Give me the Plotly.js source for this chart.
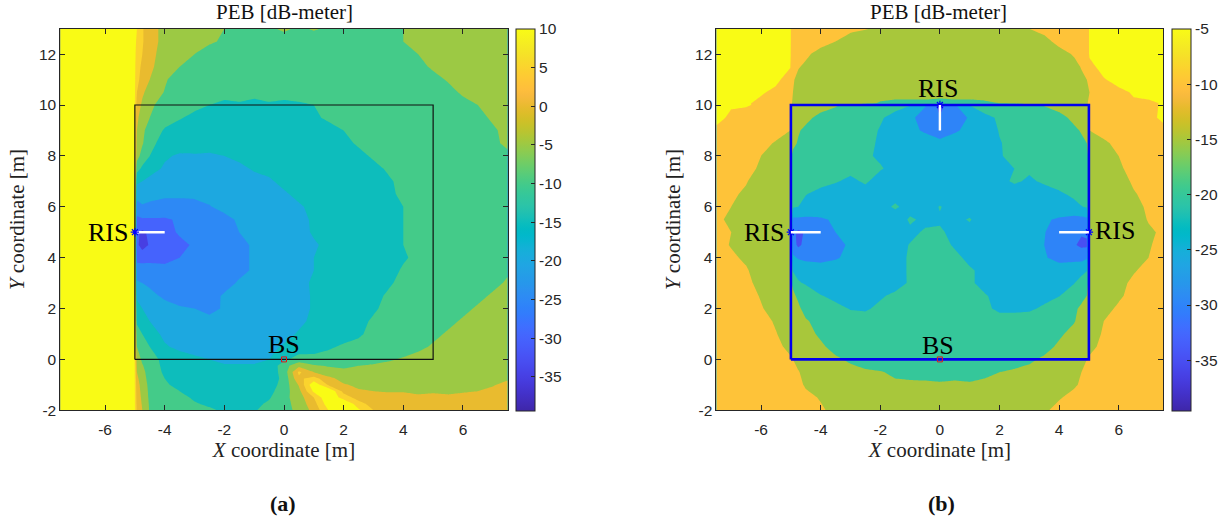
<!DOCTYPE html>
<html><head><meta charset="utf-8">
<script src="https://cdn.plot.ly/plotly-3.0.1.min.js"></script>
<style>html,body{margin:0;padding:0;background:#fff}#g{width:1225px;height:516px}</style>
</head><body><div id="g"></div>
<script>
const x_a=[-7.5,-5.02,-4.93,-4.75,-4.5,-4,-3.5,-3,-2.5,-2,-1.5,-1,-0.5,0,0.5,1,1.5,2,2.5,3,3.5,4,4.5,5,5.5,6,6.5,7,7.5];
const y_a=[-2,-1.75,-1.5,-1.25,-1,-0.75,-0.5,-0.25,0,0.5,1,1.5,2,2.5,3,3.5,4,4.5,5,5.5,6,6.5,7,7.5,8,8.5,9,9.5,10,10.5,11,11.5,12,12.5,13];
const peb_a=[
[12,12,4,0,-5.5,-7,-8,-9,-9.5,-10.5,-11,-10.5,-8,-7,-3.5,1.5,10.2,18,11,5,3,3,3,3,3,3,3,3,3],
[12,12,3.5,-0.5,-5.7,-7.5,-8.5,-9.7,-10.5,-11.2,-11.5,-11.2,-9.2,-6.8,-3,3,13,16,7,3,2,2,1.8,2,1.8,2,2.2,2.5,2.8],
[12,12,3,-1,-6,-8,-9,-10.5,-11.5,-12,-12,-12,-10.5,-6.5,-2.5,5,15,7.5,3,1.5,1,1,0.5,1,0.5,1,1.5,2,2.5],
[12,12,2.5,-1.5,-6.2,-8.7,-10,-11.2,-12.2,-12.5,-12.5,-12.5,-11.5,-7.3,-1.5,11,15,3.5,0.5,0,-0.2,-0.2,-0.5,-0.5,-0.5,-0.3,0,0.8,1.8],
[12,12,2,-2,-6.5,-9.5,-11,-12,-13,-13,-13,-13,-12.5,-8,0.5,14,4,0.5,-1,-2,-2,-1.5,-2,-2,-2,-1.5,-1.5,-0.3,1],
[12,12,1,-2.5,-7.2,-10,-11.5,-12.5,-13.5,-13.5,-13.5,-13.5,-12.7,-8.7,4,7,1.5,-2,-3,-3,-3,-3,-3,-3,-3,-3,-2.5,-1.8,-0.5],
[12,12,0,-3,-8,-10.5,-12,-13,-14,-14,-14,-14,-13,-8,6,0,-3.5,-4,-3.5,-3.5,-3.5,-3.5,-3.5,-3.5,-3.5,-3.5,-3,-3,-2.5],
[12,12,-1,-4.5,-8.2,-10.8,-12.5,-13.5,-14.5,-14.8,-14.8,-14.8,-14,-7,-1.5,-4.5,-5.3,-5.8,-5,-4.5,-4,-3.7,-3.5,-3.5,-3.5,-3.5,-3,-3,-2.8],
[12,12,-2,-6,-8.5,-11,-13,-14,-15,-15.5,-15.5,-15.5,-15,-11,-8,-8.5,-8.5,-8,-7.5,-6.5,-5.5,-4.5,-3.5,-3.5,-3.5,-3.5,-3,-3,-3],
[12,12,-5,-7.5,-10,-14.5,-16,-17,-17,-17,-17,-17,-16,-14.5,-13,-12,-10.5,-9.5,-9,-8.5,-8,-7.5,-6,-4.5,-3.5,-3.5,-3.5,-3.5,-3],
[12,12,-7,-10,-13,-16,-18,-18.5,-18.5,-18.5,-19,-18.5,-18,-16.5,-14.5,-13.5,-12.5,-11.5,-10.5,-9,-8.5,-8,-7.5,-6,-4.5,-3.5,-3.5,-3,-3],
[12,12,-11,-13,-15,-17.5,-19,-19.5,-19.5,-19.5,-19.5,-19.5,-19,-18,-16,-14,-13.5,-12,-11,-9.5,-8.5,-8,-8,-7.5,-6,-4.5,-3.5,-3.5,-3],
[12,12,-13,-15,-16,-18,-19.5,-20,-20.5,-19.8,-19.5,-19.5,-19.5,-18.5,-16.5,-14.5,-14,-13,-12,-10.5,-9,-8.5,-8.5,-8,-7,-6,-4.5,-3.5,-3],
[12,12,-16,-17,-18.5,-21,-22,-22.5,-21.5,-19.5,-19.5,-19.5,-19.5,-18.5,-16.5,-14.5,-14,-13.5,-13,-11,-9.5,-9,-8.5,-8.5,-8,-7,-6,-4.5,-3.5],
[12,12,-19.5,-20,-21,-22.5,-23.5,-24,-23.5,-21.5,-19.5,-19.5,-19.5,-18,-16,-14.5,-14,-13.5,-13,-12,-10.5,-9,-8.5,-8.5,-8.5,-8,-7,-6,-4.5],
[12,12,-22,-22.5,-23,-24,-24.5,-24.5,-24,-23,-21,-19.5,-19,-18,-16.5,-15,-14,-13.5,-13,-12.5,-11.5,-9.5,-9,-8.5,-8.5,-8.5,-8,-7,-5.5],
[12,12,-27,-27,-26.5,-26,-25,-24.5,-24,-23,-21,-19.5,-19,-18,-16.5,-15,-14,-13.5,-13,-13,-12.5,-10.5,-9,-8.5,-8.5,-8.5,-8.5,-7.5,-6],
[12,12,-29,-32,-29.5,-27.5,-26,-24.5,-24,-23,-21,-19.5,-19,-18,-16.5,-15.5,-14,-13.5,-13,-13,-12.5,-10,-9,-8.5,-8.5,-8.5,-8.5,-8,-6.5],
[12,12,-29,-31,-29,-26.5,-24.5,-24,-23.5,-22.5,-20,-19.5,-19,-18,-16.5,-14.5,-14,-13.5,-13,-13,-12.5,-10,-9,-8.5,-8.5,-8,-8.5,-8,-6.5],
[12,12,-26,-25.5,-25.5,-25.5,-24.5,-23.5,-23,-21,-19.5,-19.5,-19,-17.5,-16,-14.5,-14,-13.5,-13,-13,-12.5,-10,-9,-8.5,-8.5,-8.5,-8,-8,-6],
[12,12,-22,-20.5,-21,-22,-22,-21.5,-20.2,-19,-19,-19,-18.5,-17,-15.5,-14,-13.5,-13,-13,-13,-13,-10,-9,-8.5,-8.5,-8.5,-8,-7.5,-6],
[12,12,-18,-18,-18.5,-19,-19,-19,-19,-18.5,-18.5,-18.5,-17.5,-15.5,-14,-13.5,-13,-13,-13,-12.5,-11,-9,-8.5,-8.5,-8,-8,-7.5,-7,-6],
[12,12,-14,-15,-16,-17,-17.5,-18,-18,-17.5,-17.5,-16.5,-15.5,-14,-13.5,-13,-13,-13,-12.5,-12,-10.5,-9,-8.5,-8.5,-8,-8,-7.5,-6,-5.5],
[12,12,-8,-11,-13.5,-15.5,-16,-16,-16,-16,-16,-14.5,-14,-13.5,-13,-13,-13,-13,-12.5,-11,-9.5,-8.5,-8.5,-8.5,-8,-7,-7,-6,-5],
[12,12,-3,-7,-10,-14.5,-15.5,-15.3,-15.5,-15,-14,-14,-13.5,-13,-13,-13,-12.5,-12,-11,-9.5,-8.5,-8.5,-8,-8,-7.5,-7,-7,-6,-5.5],
[12,12,-1.5,-4.5,-8.5,-12,-13,-13.5,-13.5,-13.5,-13,-13,-13,-13,-12.5,-12.5,-12,-11,-9.5,-9,-8.5,-8,-8,-7.5,-7.5,-7,-6.5,-5.5,-4.5],
[12,12,0,-4,-7,-10.5,-12.5,-13,-13.5,-13,-13,-13,-12.5,-13,-12.5,-12,-11,-10,-9,-8.5,-8.5,-8,-7.5,-7,-7.5,-7,-6,-5.5,-4],
[12,12,1,-2.5,-5,-8,-9.5,-11.5,-12,-12,-12.5,-12.5,-12,-12,-11.5,-10.5,-9.5,-9,-8.5,-8.5,-8.5,-8,-7.5,-7.5,-7,-6.5,-6,-4.5,-4],
[12,12,3,-1,-4,-7,-8,-8.5,-10,-11,-10.5,-11,-10.5,-11,-10.5,-10,-9,-9,-8.5,-8.5,-8.5,-8.5,-8,-7.5,-6.5,-6,-5,-4,-3.5],
[12,12,5,1,-2.5,-5.2,-7.5,-8.5,-8.5,-8.5,-8.5,-9,-8.5,-8.5,-8.5,-8.5,-8.5,-8.5,-8.5,-8.5,-8.5,-8,-7.5,-7,-6,-4.5,-4,-3.5,-3.5],
[12,12,6.5,3,0,-4.5,-7,-8,-8,-8.5,-8.5,-8.5,-8.5,-8.5,-8.5,-8.5,-8.5,-8,-8,-8,-7.5,-7.5,-7,-6,-4.7,-3.5,-3.5,-3,-3],
[12,12,7,4,1,-2.5,-5,-7,-8,-8,-8,-8,-8,-8,-8,-8,-8,-8,-8,-7.5,-7,-6.5,-6,-4.5,-3.5,-3.5,-3,-3,-3],
[12,12,8,5,1.5,-2,-3.5,-5,-6.5,-7.5,-7.5,-7,-7.5,-7,-7.5,-7,-7.5,-7.5,-7,-6.5,-6.5,-6,-5,-4,-3.5,-3.5,-3,-3,-3],
[12,12,9,5.5,2,-1.5,-3,-3.5,-4.5,-5.5,-6.5,-6,-6,-6.5,-5.5,-6.5,-6,-6,-6,-6,-5.5,-5,-3.5,-3.5,-3,-3,-3,-3,-3],
[12,12,10,5.5,2,-1.5,-3,-3.5,-4,-5,-5.5,-5,-5.5,-4.5,-5.5,-4.7,-5.5,-5,-5.5,-5,-5.5,-5,-4,-3.5,-3,-3,-3,-3,-3]
];
const x_b=[-7.5,-7,-6.5,-6,-5.5,-5.02,-4.93,-4.75,-4.5,-4,-3.5,-3,-2.5,-2,-1.5,-1,-0.5,0,0.5,1,1.5,2,2.5,3,3.5,4,4.5,4.75,4.93,5.02,5.5,6,6.5,7,7.5];
const y_b=[-2,-1.5,-1,-0.5,0,0.5,1,1.5,2,2.5,3,3.5,4,4.5,5,5.5,6,6.5,7,7.5,8,8.5,9,9.5,10,10.07,10.5,11,11.5,12,12.5,13];
const peb_b=[
[-8,-8,-8,-8,-8,-8,-8,-8,-8.5,-9.5,-11,-12.5,-13,-13,-13,-13,-13,-13,-13,-13,-13,-13,-13,-12,-10.5,-9,-8.5,-8,-8,-8,-8,-8,-8,-8,-8],
[-8,-8,-8,-8,-8,-8,-8,-8.5,-9,-10.3,-12,-13,-13.5,-14,-14,-13.5,-14,-13.5,-14,-13.5,-14,-14,-13.5,-13,-12,-10.3,-9,-8.5,-8,-8,-8,-8,-8,-8,-8],
[-8,-8,-8,-8,-8,-8,-8.5,-9,-10.5,-12,-13.5,-14,-14,-14.5,-14.5,-14.5,-14.5,-14.7,-14.5,-14.7,-14.5,-14.5,-14.5,-14,-13.5,-12.5,-10.5,-9.5,-8.5,-8,-8,-8,-8,-8,-8],
[-8,-8,-8,-8,-8,-8.5,-9,-9.8,-11,-13,-13.5,-14,-14.5,-14.8,-15.5,-15.8,-16,-16,-16,-16,-15.5,-15,-14.5,-14.2,-14,-13.5,-11.5,-10,-9,-8.5,-8,-8,-8,-8,-8],
[-8,-8,-8,-8,-8.5,-9.5,-10,-11,-12,-13.5,-14.5,-15.5,-16.5,-17,-17,-17,-17,-17,-17,-17,-17,-17,-16.5,-15.5,-14.5,-13.5,-12,-11,-10,-9.5,-8.5,-8,-8,-8,-8],
[-8,-8,-8,-8,-9,-11,-11.5,-12,-12.5,-14.5,-16,-17,-17.5,-17.5,-17.5,-17.5,-17.5,-17.5,-17.5,-17.5,-17.5,-17.5,-17.5,-17,-16,-14.5,-13,-12,-11.5,-11,-9,-8,-8,-8,-8],
[-8,-8,-8,-8,-9.8,-12,-12.5,-13,-14,-15.5,-17,-18,-18.5,-18.5,-18.5,-18.5,-18.5,-18.5,-18.5,-18.5,-18.5,-18.5,-18.5,-18,-17,-15.5,-14,-13,-12.5,-12,-9.5,-8,-8,-8,-8],
[-8,-8,-8,-8.5,-10.5,-12.5,-13,-13.5,-14.7,-16,-17.5,-18.5,-19,-19,-19,-19,-19,-19,-19,-19,-19,-19,-19,-18.5,-17.5,-16,-15.2,-14,-13,-12.5,-10,-8.5,-8,-8,-8],
[-8,-8,-8.5,-9.8,-11,-13,-13.5,-14.5,-16,-17.5,-19,-20.2,-20.3,-19.5,-19.5,-19.5,-19.5,-19.5,-19.5,-19.5,-19.5,-20.5,-20.5,-20.5,-19.5,-17,-15.5,-14.5,-14,-13,-11,-9.5,-8,-8,-8],
[-8,-8.5,-9,-10.2,-12,-14,-14.5,-15.5,-17,-19.8,-21,-22,-21.5,-20.3,-19.5,-19.5,-19,-19,-19,-19.5,-19.7,-21,-22,-22,-21,-20.2,-17,-15.8,-15,-14,-12,-10.5,-9,-8,-8],
[-8,-8.5,-9.2,-11,-12.5,-14.5,-15.5,-19.5,-20.5,-22,-23,-23.5,-23.5,-22.5,-21,-19.7,-19,-18.5,-19,-19.5,-21,-22,-23,-23.5,-23,-22,-20.2,-18,-15.5,-14.5,-13,-11,-9.3,-8.5,-8],
[-8.5,-9,-9.7,-11.5,-13,-14.5,-20.5,-21.5,-22.5,-23.5,-24,-24.5,-24,-23.5,-21.5,-19.5,-18.5,-18,-18.5,-19.5,-21,-22.5,-23.5,-24,-24,-23.5,-22,-21.5,-20.3,-14.5,-13,-11.5,-10.3,-9,-8.5],
[-8.5,-9.5,-10.5,-12,-13,-14.5,-24,-25.5,-26,-26,-25.2,-24.5,-24,-23,-21.5,-19.5,-18.5,-18,-19,-21,-22.5,-23,-23.5,-24,-24.7,-26,-26.5,-26.5,-25.5,-14.5,-13,-12,-11,-10,-8.5],
[-9,-10.2,-11.5,-12.5,-13.5,-14.5,-28,-31,-28.5,-27,-26,-24.5,-24,-23,-21.5,-19.8,-19,-18.5,-20.5,-21.5,-22.5,-23,-23.5,-24,-25,-27,-29.5,-31,-31,-14.5,-13.5,-12.5,-11.5,-10.3,-9],
[-9.5,-10,-11.5,-12.5,-13.5,-14.5,-29,-31,-29.5,-26.5,-25,-24.5,-24,-23.5,-22.5,-21,-19.5,-19.5,-21,-22,-23,-23.5,-24,-24.5,-24.8,-27,-28.5,-29.5,-29,-14.5,-13.5,-12.5,-11.5,-10.5,-9.5],
[-9.5,-10.5,-12,-13,-13.5,-14.5,-26,-26,-26,-25.5,-24.5,-24,-24,-24,-23,-19.3,-21,-20.5,-21.5,-19.5,-23.5,-24,-24,-24,-24.5,-25.5,-26.5,-26.5,-26,-14.5,-13.5,-12.5,-11.5,-9.8,-9.5],
[-9,-10,-11,-12.5,-13.5,-14.5,-19.5,-20,-21.5,-22.5,-23,-23.5,-23.5,-22,-19.2,-22,-22.5,-19.7,-22,-23,-23.5,-23.5,-23.5,-23.5,-23,-22.5,-21.5,-20.2,-19.5,-14.5,-13.5,-12.5,-11,-9.5,-9],
[-8.5,-9.5,-10.5,-12,-13,-14.5,-17,-18.5,-19.8,-21.5,-22,-22,-21.5,-22,-22,-22.5,-23,-22.5,-22.5,-22.5,-22,-21.5,-22,-21.5,-21.5,-20.8,-19,-18,-17,-14.5,-13.5,-12,-10.3,-9,-8.5],
[-8,-8.5,-9.8,-11.5,-13,-14.5,-15.5,-16,-17,-18.5,-19.7,-20.8,-19.5,-21.5,-21.5,-22,-22,-22,-22,-21.5,-21.5,-21,-19.5,-20.5,-19.5,-18,-17,-16,-15.5,-14.5,-13,-11.5,-9.5,-8.5,-8],
[-8,-8,-9,-10.5,-12.5,-14.5,-15.5,-16,-16.5,-17.5,-18,-19,-19.8,-19.7,-21,-21.5,-21.5,-22,-21.5,-21.5,-21,-21,-20,-19.5,-19,-18,-17,-16.5,-15.5,-14.5,-12.5,-10.5,-9,-8,-8],
[-8,-8,-8.5,-10,-12,-14.5,-15.5,-16,-16.5,-17,-18,-18.5,-19.5,-20.5,-21.5,-22,-22,-22,-22,-22,-21.5,-20.3,-19,-18.5,-18,-17.5,-17,-16.5,-15.5,-14.5,-12.5,-10,-8.5,-8,-8],
[-8,-8,-8,-8.5,-10.5,-13,-14.5,-15.2,-16,-17,-17.5,-18,-19,-20.5,-22,-22.5,-23,-24,-23,-22.5,-22,-20.2,-19,-18,-17.5,-17,-16,-15.5,-15,-13,-11,-8.5,-8,-8,-8],
[-6,-7,-8,-8,-8,-10,-13,-14.8,-15.5,-16.5,-17,-17.5,-18.5,-20.3,-22,-24,-25.5,-27,-25.5,-24,-22,-19.8,-18.5,-18,-17.5,-16.5,-15.5,-14.8,-13,-10,-8,-8,-8,-8,-7],
[-3.5,-6,-7.5,-8,-8,-9.5,-11,-13,-14.4,-15.7,-16,-17,-18,-19.5,-21.5,-24,-27,-29.5,-27.5,-24.5,-21,-19.5,-18,-17.5,-17,-15.8,-14.4,-13.5,-11.5,-9.5,-8,-8,-7.5,-7,-3.5],
[-3,-4.5,-4.5,-6,-7.5,-9,-10.5,-11,-12,-14,-14.8,-15.5,-16.5,-18,-18.5,-19.8,-24.5,-32,-25.5,-19.8,-18,-17,-16.3,-15.5,-14.8,-14,-12.5,-11,-10.5,-9,-7.5,-7,-5.5,-6,-4.5],
[-3,-4.5,-4.5,-6,-7.5,-9,-10.5,-11,-12,-13,-13.5,-14,-14.5,-15.2,-15.5,-15.5,-15.5,-15.8,-15.5,-15.5,-15.3,-15,-14.8,-14,-13.5,-13,-12,-11,-10.5,-9,-7.5,-7,-5.5,-6,-4.5],
[-3,-3,-3.5,-4.5,-6,-8.5,-10,-11,-12,-13,-13.5,-14,-14,-14,-14,-14,-14,-14,-14,-14,-14,-14,-14,-14,-13.5,-13.5,-13,-12,-11,-10,-8.5,-6,-4.6,-3,-3],
[-3,-3,-3,-3,-4,-7,-9.7,-10.8,-11.5,-12.5,-13,-13.5,-13.5,-13.5,-13.5,-13.5,-13.5,-13.5,-13.5,-13.5,-13.5,-13.5,-13.5,-13,-13,-12.5,-11.5,-10.7,-10,-7.5,-5.3,-3.5,-3,-3,-3],
[-3,-3,-3,-3,-3,-4.8,-9.2,-9.8,-10.5,-12,-12.5,-13,-13.5,-13.5,-13.5,-13.5,-13.5,-13.5,-13.5,-13.5,-13.5,-13.5,-13.5,-13,-13,-12.5,-11,-9.8,-8.5,-6.2,-3.5,-3,-3,-3,-3],
[-3,-3,-3,-3,-3,-4.5,-7.5,-8,-9.5,-11,-12,-12.5,-13,-13.5,-13.5,-13.5,-13.5,-13.5,-13.5,-13.5,-13.5,-13.5,-13,-12.5,-12,-11.3,-9.7,-8.5,-7.5,-4.5,-3,-3,-3,-3,-3],
[-3,-3,-3,-3,-3,-4.5,-7,-7.5,-8,-9,-10,-12,-13,-13.5,-13.5,-13.5,-13.5,-13.5,-13.5,-13.5,-13.5,-13.5,-13,-12,-11,-9,-8,-7.5,-7,-4.5,-3,-3,-3,-3,-3],
[-3,-3,-3,-3,-3,-4.5,-7,-7,-7.5,-8,-8.5,-9,-9.7,-11,-12.5,-13,-13,-13,-13,-13,-13,-12.5,-11.5,-10,-9,-8,-7.5,-7.5,-7,-4.5,-3,-3,-3,-3,-3]
];
const parula_rows=[[0.2422,0.1504,0.6603],[0.2504,0.165,0.7076],[0.2578,0.1818,0.7511],[0.2647,0.1978,0.7952],[0.2706,0.2147,0.8364],[0.2751,0.2342,0.871],[0.2783,0.2559,0.8991],[0.2803,0.2782,0.9221],[0.2813,0.3006,0.9414],[0.281,0.3228,0.9579],[0.2795,0.3447,0.9717],[0.276,0.3667,0.9829],[0.2699,0.3892,0.9906],[0.2602,0.4123,0.9952],[0.244,0.4358,0.9988],[0.2206,0.4603,0.9973],[0.1963,0.4847,0.9892],[0.1834,0.5074,0.9798],[0.1786,0.5289,0.9682],[0.1764,0.5499,0.952],[0.1687,0.5703,0.9359],[0.154,0.5902,0.9218],[0.146,0.6091,0.9079],[0.138,0.6276,0.8973],[0.1248,0.6459,0.8883],[0.1113,0.6635,0.8763],[0.0952,0.6798,0.8598],[0.0689,0.6948,0.8394],[0.0297,0.7082,0.8163],[0.0036,0.7203,0.7917],[0.0067,0.7312,0.766],[0.0433,0.7411,0.7394],[0.0964,0.75,0.712],[0.1408,0.7584,0.6842],[0.1717,0.767,0.6554],[0.1938,0.7758,0.6251],[0.2161,0.7843,0.5923],[0.247,0.7918,0.5567],[0.2906,0.7973,0.5188],[0.3406,0.8008,0.4789],[0.3909,0.8029,0.4354],[0.4456,0.8024,0.3909],[0.5044,0.7993,0.348],[0.5616,0.7942,0.3045],[0.6174,0.7876,0.2612],[0.672,0.7793,0.2227],[0.7242,0.7698,0.191],[0.7738,0.7598,0.1646],[0.8203,0.7498,0.1535],[0.8634,0.7406,0.1596],[0.9035,0.733,0.1774],[0.9393,0.7288,0.21],[0.9728,0.7298,0.2394],[0.9956,0.7434,0.2371],[0.997,0.7659,0.2199],[0.9952,0.7893,0.2028],[0.9892,0.8136,0.1885],[0.9786,0.8386,0.1766],[0.9676,0.8639,0.1643],[0.961,0.889,0.1537],[0.9597,0.9135,0.1423],[0.9628,0.9373,0.1265],[0.9691,0.9606,0.1064],[0.9769,0.9839,0.0805]];
const tick_x=[-6,-4,-2,0,2,4,6], tick_y=[-2,0,2,4,6,8,10,12];
const levels_a=[-35,-30,-25,-20,-15,-10,-5,0,5,10], levels_b=[-35,-30,-25,-20,-15,-10,-5];
const cbar_a=[-35,-30,-25,-20,-15,-10,-5,0,5,10], cbar_b=[-35,-30,-25,-20,-15,-10,-5];
const range_a=[-39.4,10], range_b=[-39.6,-5];
const rect_x=[-5,5,5,-5,-5], rect_y=[0,0,10,10,0];
const ris_a=[[-5,-4,5,5]], ris_b=[[-5,-4,5,5],[5,4,5,5],[0,0,10,9]];
const ris_pt_a={x:[-5],y:[5]}, ris_pt_b={x:[-5,5,0],y:[5,5,10]};
const bs_pt={x:[0],y:[0]};

[peb_a,peb_b].forEach((m,i)=>{const n=(i?x_b:x_a).length,r=(i?y_b:y_a).length;
 if(m.length!==r)throw new Error('rows '+i+' '+m.length);
 m.forEach((row,j)=>{if(row.length!==n)throw new Error('row '+i+':'+j+' '+row.length)})});

const rgb=c=>`rgb(${Math.round(c[0]*255)},${Math.round(c[1]*255)},${Math.round(c[2]*255)})`;
function par(t){t=Math.max(0,Math.min(1,t))*(parula_rows.length-1);const i=Math.min(Math.floor(t),parula_rows.length-2),f=t-i;
 return rgb(parula_rows[i].map((v,k)=>v+(parula_rows[i+1][k]-v)*f));}
const contScale=parula_rows.map((c,i)=>[i/(parula_rows.length-1),rgb(c)]);
function bandScale(levels,rng){return levels.map((l,i)=>[i/(levels.length-1),par((l-rng[0])/(rng[1]-rng[0]))]);}

const SANS='"Liberation Sans",Arial,sans-serif', SERIF='"Liberation Serif","Times New Roman",serif', INK='#262626';
function panel(x,y,z,levels,rng,ticks,ax,cbx){
 const xa=ax===1?'x':'x2', ya=ax===1?'y':'y2';
 return [
 {type:'heatmap',x,y,z,xaxis:xa,yaxis:ya,zmin:rng[0],zmax:rng[1],colorscale:contScale,hoverinfo:'skip',
  colorbar:{x:cbx/1225,xref:'paper',xanchor:'left',y:105/516,yref:'paper',yanchor:'bottom',len:382/516,lenmode:'fraction',
   thickness:18.6,thicknessmode:'pixels',xpad:0,ypad:0,outlinecolor:INK,outlinewidth:1,ticks:'inside',ticklen:4,tickcolor:INK,tickwidth:1,
   tickmode:'array',tickvals:ticks,ticktext:ticks.map(String),tickfont:{family:SANS,size:15.5,color:INK},ticklabelposition:'outside'}},
 {type:'contour',x,y,z,xaxis:xa,yaxis:ya,showscale:false,colorscale:bandScale(levels,rng),hoverinfo:'skip',autocontour:false,
  contours:{start:levels[1],end:levels[levels.length-1],size:5,coloring:'fill',showlines:false},line:{width:0,smoothing:0}}
 ];
}
function lineTrace(xs,ys,ax,color,w){return {type:'scatter',mode:'lines',x:xs,y:ys,xaxis:ax===1?'x':'x2',yaxis:ax===1?'y':'y2',line:{color,width:w},hoverinfo:'skip',showlegend:false};}
function ptTrace(pt,ax,sym,color,size,w){return {type:'scatter',mode:'markers',x:pt.x,y:pt.y,xaxis:ax===1?'x':'x2',yaxis:ax===1?'y':'y2',marker:{symbol:sym,size,color,line:{color,width:w}},hoverinfo:'skip',showlegend:false};}

const data=[
 ...panel(x_a,y_a,peb_a,levels_a,range_a,cbar_a,1,516.4),
 ...panel(x_b,y_b,peb_b,levels_b,range_b,cbar_b,2,1171.8),
 lineTrace(rect_x,rect_y,1,'#111',1.2),
 ptTrace(ris_pt_b,2,'asterisk-open','#0000ff',7,1.2),
 lineTrace(rect_x,rect_y,2,'#0000ee',2.6),
 ...ris_a.map(r=>lineTrace(r.slice(0,2),r.slice(2),1,'#fff',2.4)),
 ...ris_b.map(r=>lineTrace(r.slice(0,2),r.slice(2),2,'#fff',2.4)),
 ptTrace(ris_pt_a,1,'asterisk-open','#0000ff',7,1.2),
 ptTrace(bs_pt,1,'square-open','#e0141c',5,1),
 ptTrace(bs_pt,2,'square-open','#e0141c',5,1)
];
function axis(dom,ticks,range,anchor,titleText,standoff,lab){return {domain:dom,range,anchor,tickmode:'array',tickvals:ticks,ticktext:ticks.map(String),
 ticks:'inside',ticklen:5,tickwidth:1,tickcolor:INK,showline:true,mirror:'ticks',linecolor:INK,linewidth:1,showgrid:false,zeroline:false,ticklabelstandoff:lab,
 tickfont:{family:SANS,size:15.5,color:INK},title:{text:titleText,font:{family:SERIF,size:21,color:'#222'},standoff},automargin:false};}
const label=(xref,yref,x,y,text)=>({xref,yref,x,y,text,showarrow:false,font:{family:SERIF,size:26,color:'#000'},xanchor:'center',yanchor:'middle'});
const free=(x,y,text,size,weight)=>({xref:'paper',yref:'paper',x:x/1225,y:1-y/516,text,showarrow:false,font:{family:SERIF,size,color:'#111',weight:weight||400},xanchor:'center',yanchor:'middle'});
const layout={width:1225,height:516,margin:{l:0,r:0,t:0,b:0},paper_bgcolor:'#fff',plot_bgcolor:'#fff',showlegend:false,
 xaxis:axis([60.3/1225,507.7/1225],tick_x,[-7.5,7.5],'y','<i>X</i> coordinate [m]',0,5),
 yaxis:axis([105.7/516,487.3/516],tick_y,[-2,13],'x','<i>Y</i> coordinate [m]',8,0),
 xaxis2:axis([716.4/1225,1163.4/1225],tick_x,[-7.5,7.5],'y2','<i>X</i> coordinate [m]',0,5),
 yaxis2:axis([105.7/516,487.3/516],tick_y,[-2,13],'x2','<i>Y</i> coordinate [m]',8,0),
 annotations:[
  label('x','y',-5.9,5,'RIS'),label('x','y',0,0.58,'BS'),
  label('x2','y2',-5.9,5,'RIS'),label('x2','y2',-0.05,10.65,'RIS'),label('x2','y2',5.87,5.05,'RIS'),label('x2','y2',-0.05,0.55,'BS'),
  free(284,12,'PEB [dB-meter]',21),free(938,12,'PEB [dB-meter]',21),
  free(283,503,'(a)',22,700),free(941,503,'(b)',22,700)
 ]};
Plotly.newPlot('g',data,layout,{displayModeBar:false,responsive:false});
</script></body></html>
